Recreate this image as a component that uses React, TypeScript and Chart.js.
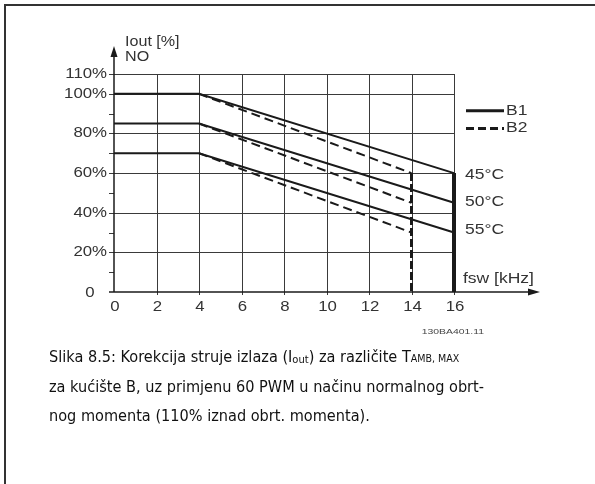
import React, { useEffect, useRef } from "react";
import { Chart, registerables } from "chart.js";
Chart.register(...registerables);

// ---- data ----
const freqB1 = [0, 4, 16];
const freqB2 = [4, 14];
const b1T45 = [100, 100, 60];
const b1T50 = [85, 85, 45];
const b1T55 = [70, 70, 30];
const b2T45 = [100, 60];
const b2T50 = [85, 45];
const b2T55 = [70, 30];
const b1LimitFreq = 16;
const b2LimitFreq = 14;
const limitRange = [60, 0];
const xTicks = [0, 2, 4, 6, 8, 10, 12, 14, 16];
const yGrid = [0, 20, 40, 60, 80, 100, 110];
const yLabels = ["0", "20%", "40%", "60%", "80%", "100%", "110%"];
const yMinor = [10, 30, 50, 70, 90];
const tempLabels = ["45°C", "50°C", "55°C"];
const tempLabelAt = [59, 45.5, 31];
const legendLabels = ["B1", "B2"];
const yTitle = ["Iout [%]", "NO"];
const xTitle = "fsw [kHz]";
const codeLabel = "130BA401.11";
const captionLine1 = [
  { t: "Slika 8.5: Korekcija struje izlaza (I", k: "n" },
  { t: "out", k: "sub" },
  { t: ") za različite T", k: "n" },
  { t: "AMB, MAX", k: "sc" },
];
const captionLine2 = "za kućište B, uz primjenu 60 PWM u načinu normalnog obrt-";
const captionLine3 = "nog momenta (110% iznad obrt. momenta).";

const pts = (xs: number[], ys: number[]) => xs.map((x, i) => ({ x, y: ys[i] }));

const INK = "#1a1a1a";
const LBL = "#333";
const LFONT = "Liberation Sans, Arial, sans-serif";
const CFONT = "DejaVu Sans, Verdana, sans-serif";

function stretched(ctx: CanvasRenderingContext2D, text: string, x: number, y: number, align: CanvasTextAlign, font: string, sx: number, color = LBL) {
  ctx.save();
  ctx.font = font;
  ctx.fillStyle = color;
  ctx.textBaseline = "middle";
  ctx.textAlign = align;
  ctx.translate(x, y);
  ctx.scale(sx, 1);
  ctx.fillText(text, 0, 0);
  ctx.restore();
}

const decorPlugin = {
  id: "decor",
  beforeDatasetsDraw(chart: any) {
    const ctx: CanvasRenderingContext2D = chart.ctx;
    const xs = chart.scales.x;
    const ys = chart.scales.y;
    const x0 = xs.getPixelForValue(0);
    const x16 = xs.getPixelForValue(16);
    const y0 = ys.getPixelForValue(0);
    const yTop = ys.getPixelForValue(110);
    ctx.save();
    ctx.strokeStyle = "#3a3a3a";
    ctx.lineWidth = 1;
    for (const v of xTicks) {
      if (v === 0) continue;
      const px = Math.round(xs.getPixelForValue(v)) + 0.5;
      ctx.beginPath();
      ctx.moveTo(px, yTop);
      ctx.lineTo(px, y0 + 3);
      ctx.stroke();
    }
    for (const v of yGrid) {
      if (v === 0) continue;
      const py = Math.round(ys.getPixelForValue(v)) + 0.5;
      ctx.beginPath();
      ctx.moveTo(x0 - 5, py);
      ctx.lineTo(x16, py);
      ctx.stroke();
    }
    for (const v of yMinor) {
      const py = Math.round(ys.getPixelForValue(v)) + 0.5;
      ctx.beginPath();
      ctx.moveTo(x0 - 5, py);
      ctx.lineTo(x0, py);
      ctx.stroke();
    }
    // axes
    ctx.strokeStyle = INK;
    ctx.fillStyle = INK;
    ctx.lineWidth = 1.5;
    const axEnd = x16 + 80;
    ctx.beginPath();
    ctx.moveTo(x0 - 5, y0);
    ctx.lineTo(axEnd, y0);
    ctx.stroke();
    ctx.beginPath();
    ctx.moveTo(axEnd + 6, y0);
    ctx.lineTo(axEnd - 6, y0 - 3.5);
    ctx.lineTo(axEnd - 6, y0 + 3.5);
    ctx.closePath();
    ctx.fill();
    const ayEnd = yTop - 22;
    ctx.beginPath();
    ctx.moveTo(x0, y0);
    ctx.lineTo(x0, ayEnd);
    ctx.stroke();
    ctx.beginPath();
    ctx.moveTo(x0, ayEnd - 6);
    ctx.lineTo(x0 - 3.5, ayEnd + 5);
    ctx.lineTo(x0 + 3.5, ayEnd + 5);
    ctx.closePath();
    ctx.fill();
    ctx.restore();
  },
  afterDraw(chart: any) {
    const ctx: CanvasRenderingContext2D = chart.ctx;
    const xs = chart.scales.x;
    const ys = chart.scales.y;
    const x0 = xs.getPixelForValue(0);
    const x16 = xs.getPixelForValue(16);
    const y0 = ys.getPixelForValue(0);
    const yTop = ys.getPixelForValue(110);
    const f14 = `14px ${LFONT}`;
    const sx = 1.2;
    // y labels
    yGrid.forEach((v, i) => {
      const py = ys.getPixelForValue(v);
      if (v === 0) stretched(ctx, yLabels[i], x0 - 24, py + 1, "center", f14, sx);
      else stretched(ctx, yLabels[i], x0 - 7, py, "right", f14, sx);
    });
    // x labels
    xTicks.forEach((v) => {
      stretched(ctx, String(v), xs.getPixelForValue(v) + 1, y0 + 15, "center", f14, sx);
    });
    // axis titles
    stretched(ctx, yTitle[0], x0 + 11, yTop - 32, "left", f14, 1.15);
    stretched(ctx, yTitle[1], x0 + 11, yTop - 17, "left", f14, 1.15);
    stretched(ctx, xTitle, x16 + 9, y0 - 13, "left", f14, 1.25);
    // temperature labels
    tempLabels.forEach((t, i) => {
      stretched(ctx, t, x16 + 11, ys.getPixelForValue(tempLabelAt[i]), "left", f14, 1.25);
    });
    // legend
    ctx.save();
    ctx.strokeStyle = INK;
    ctx.lineWidth = 3;
    const ly1 = ys.getPixelForValue(91.5);
    const ly2 = ys.getPixelForValue(82.5);
    ctx.beginPath();
    ctx.moveTo(x16 + 12, ly1);
    ctx.lineTo(x16 + 50, ly1);
    ctx.stroke();
    ctx.setLineDash([8, 4]);
    ctx.beginPath();
    ctx.moveTo(x16 + 12, ly2);
    ctx.lineTo(x16 + 50, ly2);
    ctx.stroke();
    ctx.restore();
    stretched(ctx, legendLabels[0], x16 + 52, ly1, "left", f14, 1.25);
    stretched(ctx, legendLabels[1], x16 + 52, ly2, "left", f14, 1.25);
    // code label
    stretched(ctx, codeLabel, x16 + 30, y0 + 40, "right", `8px ${LFONT}`, 1.3, "#444");
    // border
    ctx.save();
    ctx.strokeStyle = "#333";
    ctx.lineWidth = 2;
    ctx.beginPath();
    ctx.moveTo(5, 484);
    ctx.lineTo(5, 5);
    ctx.lineTo(595, 5);
    ctx.stroke();
    ctx.restore();
    // caption
    ctx.save();
    ctx.fillStyle = "#111";
    ctx.textBaseline = "alphabetic";
    ctx.textAlign = "left";
    const cf = `16px ${CFONT}`;
    const sf = `10.5px ${CFONT}`;
    ctx.font = cf;
    const w2 = ctx.measureText(captionLine2).width;
    const csx = 435 / w2;
    const left = 49;
    const drawLine = (txt: string, base: number) => {
      ctx.save();
      ctx.font = cf;
      ctx.translate(left, base);
      ctx.scale(csx, 1);
      ctx.fillText(txt, 0, 0);
      ctx.restore();
    };
    // line 1 with sub parts
    ctx.save();
    ctx.translate(left, 362);
    ctx.scale(csx, 1);
    let cx = 0;
    for (const p of captionLine1) {
      if (p.k === "n") {
        ctx.font = cf;
        ctx.fillText(p.t, cx, 0);
        cx += ctx.measureText(p.t).width;
      } else if (p.k === "sub") {
        ctx.font = `11px ${CFONT}`;
        ctx.fillText(p.t, cx, 1);
        cx += ctx.measureText(p.t).width;
      } else {
        ctx.font = sf;
        ctx.fillText(p.t, cx, 0);
        cx += ctx.measureText(p.t).width;
      }
    }
    ctx.restore();
    drawLine(captionLine2, 392);
    drawLine(captionLine3, 421);
    ctx.restore();
  },
};

export default function App() {
  const ref = useRef<HTMLCanvasElement | null>(null);
  useEffect(() => {
    if (!ref.current) return;
    const solid = (data: any[], w = 2) => ({
      data,
      borderColor: INK,
      borderWidth: w,
      pointRadius: 0,
      fill: false,
      tension: 0,
      clip: false,
    });
    const dashed = (data: any[], w = 2, dash = [9, 5]) => ({
      ...solid(data, w),
      borderDash: dash,
    });
    const chart = new Chart(ref.current, {
      type: "line",
      data: {
        datasets: [
          solid(pts(freqB1, b1T45)),
          solid(pts(freqB1, b1T50)),
          solid(pts(freqB1, b1T55)),
          dashed(pts(freqB2, b2T45)),
          dashed(pts(freqB2, b2T50)),
          dashed(pts(freqB2, b2T55)),
          solid(limitRange.map((y) => ({ x: b1LimitFreq, y })), 4),
          dashed(limitRange.map((y) => ({ x: b2LimitFreq, y })), 3, [8, 3]),
        ] as any,
      },
      options: {
        responsive: false,
        animation: false,
        devicePixelRatio: 1,
        layout: { padding: { left: 114, right: 141, top: 74, bottom: 192 } },
        scales: {
          x: { type: "linear", min: 0, max: 16, display: false },
          y: { type: "linear", min: 0, max: 110, display: false },
        },
        plugins: {
          legend: { display: false },
          tooltip: { enabled: false },
          title: { display: false },
        },
      } as any,
      plugins: [decorPlugin],
    });
    return () => chart.destroy();
  }, []);
  return (
    <div style={{ position: "absolute", left: 0, top: 0, width: 595, height: 484, background: "#fff" }}>
      <canvas ref={ref} width={595} height={484} style={{ display: "block" }} />
    </div>
  );
}
